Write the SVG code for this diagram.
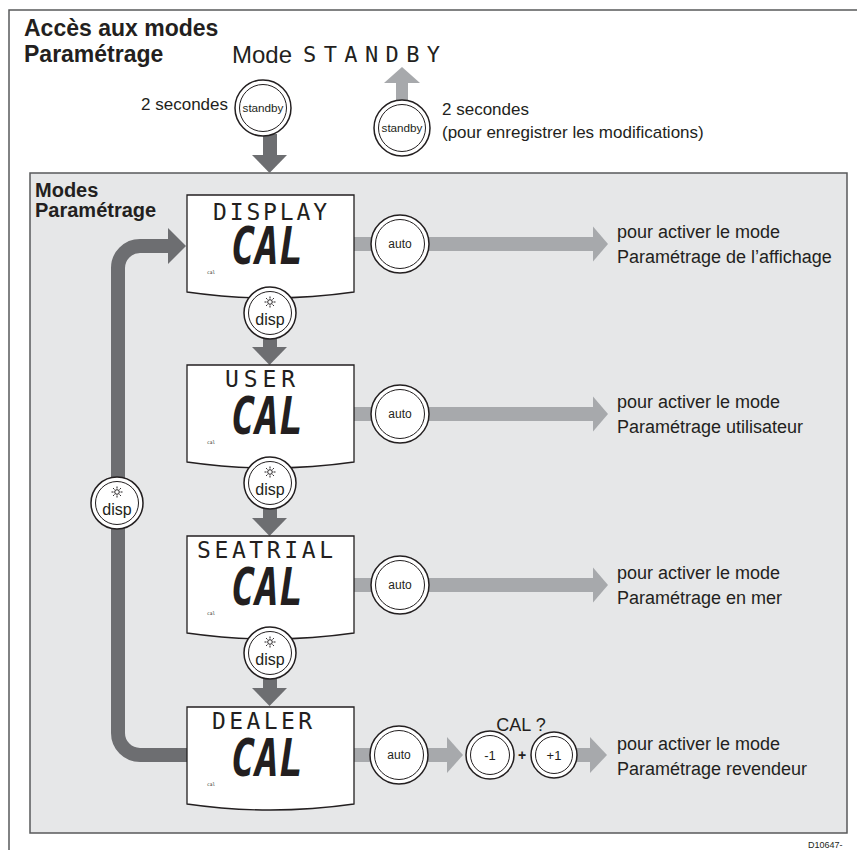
<svg xmlns="http://www.w3.org/2000/svg" width="857" height="850" viewBox="0 0 857 850">
<style>
.t{font-family:"Liberation Sans",Arial,sans-serif;fill:#231f20}
.b{font-weight:bold}
.lcd{font-family:"DejaVu Sans Mono",monospace;fill:#231f20}
.cal{font-family:"DejaVu Sans Mono",monospace;font-style:oblique;font-weight:bold;fill:#231f20}
.ring{fill:#fff;stroke:#231f20;stroke-width:1.5}
.ring2{fill:none;stroke:#231f20;stroke-width:1}
.box{fill:#fff;stroke:#231f20;stroke-width:1.3}
.dark{fill:#6d6e71}
.light{fill:#a7a9ac}
</style>
<defs>
<g id="sun" stroke="#231f20" stroke-width="1" fill="none">
<circle r="2.3" fill="#fff"/>
<path d="M0,-3.5V-5.5M0,3.5V5.5M-3.5,0H-5.5M3.5,0H5.5M2.5,-2.5L3.9,-3.9M-2.5,-2.5L-3.9,-3.9M2.5,2.5L3.9,3.9M-2.5,2.5L-3.9,3.9"/>
</g>
</defs>

<path d="M9,850V10H857" fill="none" stroke="#58595b" stroke-width="1.5"/>

<g id="title">
<text class="t b" x="24" y="36" font-size="23">Accès aux modes</text>
<text class="t b" x="24" y="62" font-size="23">Paramétrage</text>
<text class="t" x="232" y="63" font-size="24">Mode</text>
<text class="lcd" x="303" y="62" font-size="22" textLength="137" lengthAdjust="spacing">STANDBY</text>
<text class="t" x="228" y="110" font-size="17" text-anchor="end">2 secondes</text>
<text class="t" x="442" y="115" font-size="17">2 secondes</text>
<text class="t" x="442" y="138" font-size="17">(pour enregistrer les modifications)</text>
</g>

<rect id="panel" x="30" y="173" width="817" height="660" fill="#e6e7e8" stroke="#58595b" stroke-width="1.5"/>
<g id="panel-label">
<text class="t b" x="35" y="197" font-size="20">Modes</text>
<text class="t b" x="35" y="217" font-size="20">Paramétrage</text>
</g>

<g id="connectors">
<rect class="dark" x="263" y="134" width="14" height="22"/>
<polygon class="dark" points="252,155 287,155 269.5,173"/>
<rect class="light" x="396" y="82" width="12" height="20"/>
<polygon class="light" points="384,83 420,83 402,67"/>
<path d="M190,755H140A22,22 0 0 1 118,733V268A22,22 0 0 1 140,246H170" fill="none" stroke="#6d6e71" stroke-width="14"/>
<polygon class="dark" points="168,228 186,246 168,264"/>
<rect class="dark" x="263" y="336" width="14" height="12"/>
<polygon class="dark" points="252,347 287,347 269.5,365"/>
<rect class="dark" x="263" y="506" width="14" height="13"/>
<polygon class="dark" points="252,518 287,518 269.5,536"/>
<rect class="dark" x="263" y="677" width="14" height="12"/>
<polygon class="dark" points="252,688 287,688 269.5,706"/>
<rect class="light" x="353" y="237" width="241" height="14"/>
<polygon class="light" points="593,226.5 608,244 593,261.5"/>
<rect class="light" x="353" y="407" width="241" height="14"/>
<polygon class="light" points="593,396.5 608,414 593,431.5"/>
<rect class="light" x="353" y="578" width="241" height="14"/>
<polygon class="light" points="593,567.5 608,585 593,602.5"/>
<rect class="light" x="353" y="748" width="95" height="14"/>
<polygon class="light" points="447,737 463,755 447,773"/>
<rect class="light" x="576" y="748" width="15" height="14"/>
<polygon class="light" points="590,737 607,755 590,773"/>
</g>

<g id="standby-in">
<circle class="ring" cx="263" cy="108" r="28"/>
<circle class="ring2" cx="263" cy="108" r="23.5"/>
<text class="t" x="263" y="112" font-size="11.7" text-anchor="middle">standby</text>
</g>
<g id="standby-out">
<circle class="ring" cx="402" cy="128" r="28"/>
<circle class="ring2" cx="402" cy="128" r="23.5"/>
<text class="t" x="402" y="132" font-size="11.7" text-anchor="middle">standby</text>
</g>

<g id="display-cal">
<path class="box" d="M187,195H354V292Q270.5,304 187,292Z"/>
<text class="lcd" x="213" y="220" font-size="23" textLength="114" lengthAdjust="spacing">DISPLAY</text>
<text class="cal" x="231" y="264" font-size="52" textLength="72" lengthAdjust="spacingAndGlyphs">CAL</text>
<text class="lcd" x="207" y="274" font-size="4.5">cal</text>
</g>
<g id="user-cal">
<path class="box" d="M187,365H354V462Q270.5,474 187,462Z"/>
<text class="lcd" x="225" y="387" font-size="23" textLength="70" lengthAdjust="spacing">USER</text>
<text class="cal" x="231" y="434" font-size="52" textLength="72" lengthAdjust="spacingAndGlyphs">CAL</text>
<text class="lcd" x="207" y="444" font-size="4.5">cal</text>
</g>
<g id="seatrial-cal">
<path class="box" d="M187,536H354V633Q270.5,645 187,633Z"/>
<text class="lcd" x="197" y="558" font-size="23" textLength="136" lengthAdjust="spacing">SEATRIAL</text>
<text class="cal" x="231" y="605" font-size="52" textLength="72" lengthAdjust="spacingAndGlyphs">CAL</text>
<text class="lcd" x="207" y="615" font-size="4.5">cal</text>
</g>
<g id="dealer-cal">
<path class="box" d="M187,707H354V804Q270.5,816 187,804Z"/>
<text class="lcd" x="212" y="729" font-size="23" textLength="100" lengthAdjust="spacing">DEALER</text>
<text class="cal" x="231" y="776" font-size="52" textLength="72" lengthAdjust="spacingAndGlyphs">CAL</text>
<text class="lcd" x="207" y="786" font-size="4.5">cal</text>
</g>

<g id="disp-1">
<circle class="ring" cx="270" cy="313" r="26"/>
<circle class="ring2" cx="270" cy="313" r="21.5"/>
<use href="#sun" x="270" y="302"/>
<text class="t" x="270" y="325" font-size="16" text-anchor="middle">disp</text>
</g>
<g id="disp-2">
<circle class="ring" cx="270" cy="483" r="26"/>
<circle class="ring2" cx="270" cy="483" r="21.5"/>
<use href="#sun" x="270" y="472"/>
<text class="t" x="270" y="495" font-size="16" text-anchor="middle">disp</text>
</g>
<g id="disp-3">
<circle class="ring" cx="270" cy="653" r="26"/>
<circle class="ring2" cx="270" cy="653" r="21.5"/>
<use href="#sun" x="270" y="642"/>
<text class="t" x="270" y="665" font-size="16" text-anchor="middle">disp</text>
</g>
<g id="disp-loop">
<circle class="ring" cx="117" cy="503" r="26"/>
<circle class="ring2" cx="117" cy="503" r="21.5"/>
<use href="#sun" x="117" y="492"/>
<text class="t" x="117" y="515" font-size="16" text-anchor="middle">disp</text>
</g>

<g id="auto-1">
<circle class="ring" cx="400" cy="244" r="29"/>
<circle class="ring2" cx="400" cy="244" r="24.5"/>
<text class="t" x="400" y="248" font-size="12" text-anchor="middle">auto</text>
</g>
<g id="auto-2">
<circle class="ring" cx="400" cy="414" r="29"/>
<circle class="ring2" cx="400" cy="414" r="24.5"/>
<text class="t" x="400" y="418" font-size="12" text-anchor="middle">auto</text>
</g>
<g id="auto-3">
<circle class="ring" cx="400" cy="585" r="29"/>
<circle class="ring2" cx="400" cy="585" r="24.5"/>
<text class="t" x="400" y="589" font-size="12" text-anchor="middle">auto</text>
</g>
<g id="auto-4">
<circle class="ring" cx="399" cy="755" r="29"/>
<circle class="ring2" cx="399" cy="755" r="24.5"/>
<text class="t" x="399" y="759" font-size="12" text-anchor="middle">auto</text>
</g>

<g id="minus1">
<circle class="ring" cx="490" cy="755" r="24"/>
<circle class="ring2" cx="490" cy="755" r="19.5"/>
<text class="t" x="490" y="760" font-size="13" text-anchor="middle">-1</text>
</g>
<text class="t b" x="522" y="760" font-size="14" text-anchor="middle">+</text>
<g id="plus1">
<circle class="ring" cx="554" cy="755" r="23"/>
<circle class="ring2" cx="554" cy="755" r="18.5"/>
<text class="t" x="554" y="760" font-size="13" text-anchor="middle">+1</text>
</g>
<text class="t" x="521" y="731" font-size="18" text-anchor="middle">CAL ?</text>

<g id="labels">
<text class="t" x="617" y="238" font-size="18">pour activer le mode</text>
<text class="t" x="617" y="263" font-size="18">Paramétrage de l’affichage</text>
<text class="t" x="617" y="408" font-size="18">pour activer le mode</text>
<text class="t" x="617" y="433" font-size="18">Paramétrage utilisateur</text>
<text class="t" x="617" y="579" font-size="18">pour activer le mode</text>
<text class="t" x="617" y="604" font-size="18">Paramétrage en mer</text>
<text class="t" x="617" y="750" font-size="18">pour activer le mode</text>
<text class="t" x="617" y="775" font-size="18">Paramétrage revendeur</text>
</g>
<text class="t" x="808" y="848" font-size="9">D10647-</text>
</svg>
